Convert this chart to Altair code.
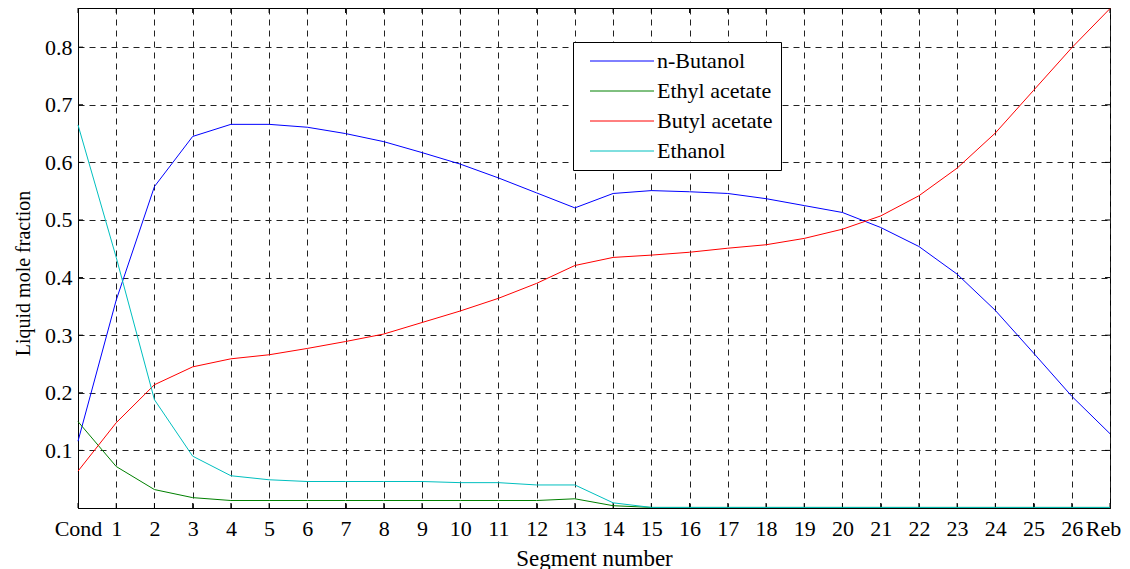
import altair as alt
import pandas as pd

segments = ["Cond"] + [str(i) for i in range(1, 27)] + ["Reb"]

n_butanol = [0.116, 0.361, 0.558, 0.645, 0.666, 0.666, 0.661, 0.650, 0.636, 0.617,
             0.597, 0.573, 0.547, 0.521, 0.546, 0.551, 0.549, 0.546, 0.537, 0.525,
             0.513, 0.487, 0.454, 0.406, 0.343, 0.269, 0.194, 0.129]
ethyl_acetate = [0.150, 0.072, 0.032, 0.018, 0.013, 0.013, 0.013, 0.013, 0.013, 0.013,
                 0.013, 0.013, 0.013, 0.016, 0.004, 0.001, 0.001, 0.001, 0.001, 0.001,
                 0.001, 0.001, 0.001, 0.001, 0.001, 0.001, 0.001, 0.001]
butyl_acetate = [0.064, 0.148, 0.214, 0.245, 0.259, 0.266, 0.277, 0.289, 0.302, 0.322,
                 0.342, 0.364, 0.390, 0.421, 0.435, 0.439, 0.444, 0.451, 0.457, 0.468,
                 0.484, 0.507, 0.542, 0.590, 0.651, 0.725, 0.799, 0.867]
ethanol = [0.665, 0.435, 0.188, 0.090, 0.056, 0.049, 0.046, 0.046, 0.046, 0.046,
           0.044, 0.044, 0.040, 0.040, 0.009, 0.001, 0.001, 0.001, 0.001, 0.001,
           0.001, 0.001, 0.001, 0.001, 0.001, 0.001, 0.001, 0.001]

series_names = ["n-Butanol", "Ethyl acetate", "Butyl acetate", "Ethanol"]
series_colors = ["#0000ff", "#008000", "#ff0000", "#00bfbf"]
y_ticks = [0.1, 0.2, 0.3, 0.4, 0.5, 0.6, 0.7, 0.8]

rows = []
for name, vals in zip(series_names, [n_butanol, ethyl_acetate, butyl_acetate, ethanol]):
    for i, (s, v) in enumerate(zip(segments, vals)):
        rows.append({"Segment": s, "value": v, "series": name, "order": i})
df = pd.DataFrame(rows)

W, H = 1032, 500
FONT = "Liberation Serif, Times New Roman, serif"

x_enc = alt.X("Segment:N", sort=segments,
              scale=alt.Scale(type="point", padding=0),
              axis=alt.Axis(title="Segment number", labelAngle=0, labelAlign="center",
                            labelOffset=alt.ExprRef(expr="datum.value == 'Reb' ? -7 : 0"),
                            ticks=False,
                            grid=True, gridDash=[6, 5], gridColor="#222",
                            labelFont=FONT, labelFontSize=22, labelColor="black",
                            labelPadding=20, titleFont=FONT, titleFontSize=23,
                            titleFontWeight="normal", titleColor="black",
                            titleBaseline="alphabetic", titleY=57,
                            domainColor="black", labelFlush=False))
y_scale = alt.Scale(domain=[0, 0.868], nice=False, zero=True)
y_enc = alt.Y("value:Q", scale=y_scale,
              axis=alt.Axis(title="Liquid mole fraction", values=y_ticks, format=".1f",
                            ticks=False, grid=True, gridDash=[6, 5], gridColor="#222",
                            labelFont=FONT, labelFontSize=22, labelColor="black",
                            labelPadding=6, titleFont=FONT, titleFontSize=20,
                            titleFontWeight="normal", titleColor="black",
                            titleAngle=270, titleBaseline="alphabetic",
                            titleX=-49, titleY=265, titleAlign="center",
                            domainColor="black"))

lines = alt.Chart(df).mark_line(strokeWidth=1).encode(
    x=x_enc,
    y=y_enc,
    color=alt.Color("series:N",
                    scale=alt.Scale(domain=series_names, range=series_colors),
                    legend=alt.Legend(title=None, orient="none", legendX=495, legendY=34,
                                      symbolType="M-4,0H4", symbolSize=256,
                                      symbolStrokeWidth=1, symbolFillColor="transparent",
                                      labelFont=FONT, labelFontSize=22,
                                      labelColor="black", labelOffset=24,
                                      padding=8, symbolOffset=30, rowPadding=8,
                                      fillColor="white", strokeColor="black",
                                      cornerRadius=0)),
    order=alt.Order("order:Q"),
)

seg_df = pd.DataFrame({"Segment": segments})
ytick_df = pd.DataFrame({"value": y_ticks})

xt_bottom = alt.Chart(seg_df).mark_rule(color="black", strokeWidth=1).encode(
    x=alt.X("Segment:N", sort=segments), y=alt.value(H), y2=alt.value(H - 5))
xt_top = alt.Chart(seg_df).mark_rule(color="black", strokeWidth=1).encode(
    x=alt.X("Segment:N", sort=segments), y=alt.value(0), y2=alt.value(5))
yt_left = alt.Chart(ytick_df).mark_rule(color="black", strokeWidth=1).encode(
    y=alt.Y("value:Q", scale=y_scale), x=alt.value(0), x2=alt.value(5))
yt_right = alt.Chart(ytick_df).mark_rule(color="black", strokeWidth=1).encode(
    y=alt.Y("value:Q", scale=y_scale), x=alt.value(W - 5), x2=alt.value(W))

chart = alt.layer(xt_bottom, xt_top, yt_left, yt_right, lines).properties(
    width=W, height=H,
    autosize=alt.AutoSizeParams(type="none"),
    padding={"left": 70, "top": 0, "right": 12, "bottom": 61},
    background="white",
).configure(font=FONT).configure_view(stroke="black", strokeWidth=1).configure_axis(domainWidth=1)

chart.save("out.html", embed_options={"renderer": "svg", "actions": False})
